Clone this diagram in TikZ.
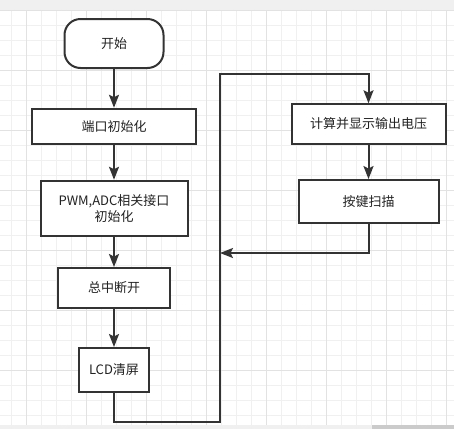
\documentclass[tikz,border=0pt]{standalone}
\usepackage{fontspec}
\setmainfont{Noto Sans CJK SC}
\usetikzlibrary{arrows.meta}
\definecolor{lineC}{HTML}{333333}
\definecolor{gridMinor}{HTML}{F0F0F0}
\definecolor{gridMajor}{HTML}{E2E2E2}
\definecolor{barC}{HTML}{F0F0F0}
\definecolor{thumbC}{HTML}{CBCBCB}
\definecolor{txtC}{HTML}{222222}
\tikzset{
  box/.style={draw=lineC, line width=2pt, fill=white, inner sep=0pt, text=txtC,
    font=\fontsize{13pt}{16.5pt}\selectfont, align=center},
  term/.style={box, rounded corners=16pt},
  conn/.style={draw=lineC, line width=2pt, -{Stealth[length=13pt,width=10pt,inset=2.5pt]}},
  plain/.style={draw=lineC, line width=2pt},
}
\begin{document}
\begin{tikzpicture}[x=1pt,y=-1pt]
\useasboundingbox (0,0) rectangle (454,429);
\fill[white] (0,0) rectangle (454,429);
% grid
\foreach \i in {0,...,29} {\draw[gridMinor, line width=1pt] ({11.7+15*\i},10) -- ({11.7+15*\i},425);}
\foreach \i in {0,...,27} {\draw[gridMinor, line width=1pt] (0,{10+15*\i}) -- (454,{10+15*\i});}
\foreach \i in {0,...,7} {\draw[gridMajor, line width=1pt] ({26.7+60*\i},10) -- ({26.7+60*\i},425);}
\foreach \i in {0,...,6} {\draw[gridMajor, line width=1pt] (0,{10+60*\i}) -- (454,{10+60*\i});}
% top and bottom bars
\fill[barC] (0,0) rectangle (454,10);
\fill[barC] (0,424.5) rectangle (372,429);
\fill[thumbC] (372,424.5) rectangle (454,429);
% nodes
\node[term, minimum width=99pt, minimum height=49pt] (start) at (114,43.5) {开始};
\node[box, minimum width=164pt, minimum height=35.5pt] (n1) at (114,126.5) {端口初始化};
\node[box, minimum width=147pt, minimum height=55.5pt] (n2) at (114,208.5) {PWM,ADC相关接口\\初始化};
\node[box, minimum width=112pt, minimum height=39.5pt] (n3) at (114,287.8) {总中断开};
\node[box, minimum width=70pt, minimum height=44pt] (n4) at (114,370) {LCD清屏};
\node[box, minimum width=154pt, minimum height=39.5pt] (r1) at (368.5,124) {计算并显示输出电压};
\node[box, minimum width=140pt, minimum height=42.5pt] (r2) at (368.5,201.3) {按键扫描};
% connector points
\coordinate (b1) at (220,422.3);
\coordinate (t1) at (220,74);
\coordinate (m1) at (220,253);
% connectors
\draw[conn] (start.south) -- (n1.north);
\draw[conn] (n1.south) -- (n2.north);
\draw[conn] (n2.south) -- (n3.north);
\draw[conn] (n3.south) -- (n4.north);
\draw[conn, rounded corners=0pt] (n4.south) |- (b1) -- (t1) -| (r1.north);
\draw[conn] (r1.south) -- (r2.north);
\draw[conn] (r2.south) |- (m1);
\end{tikzpicture}
\end{document}
